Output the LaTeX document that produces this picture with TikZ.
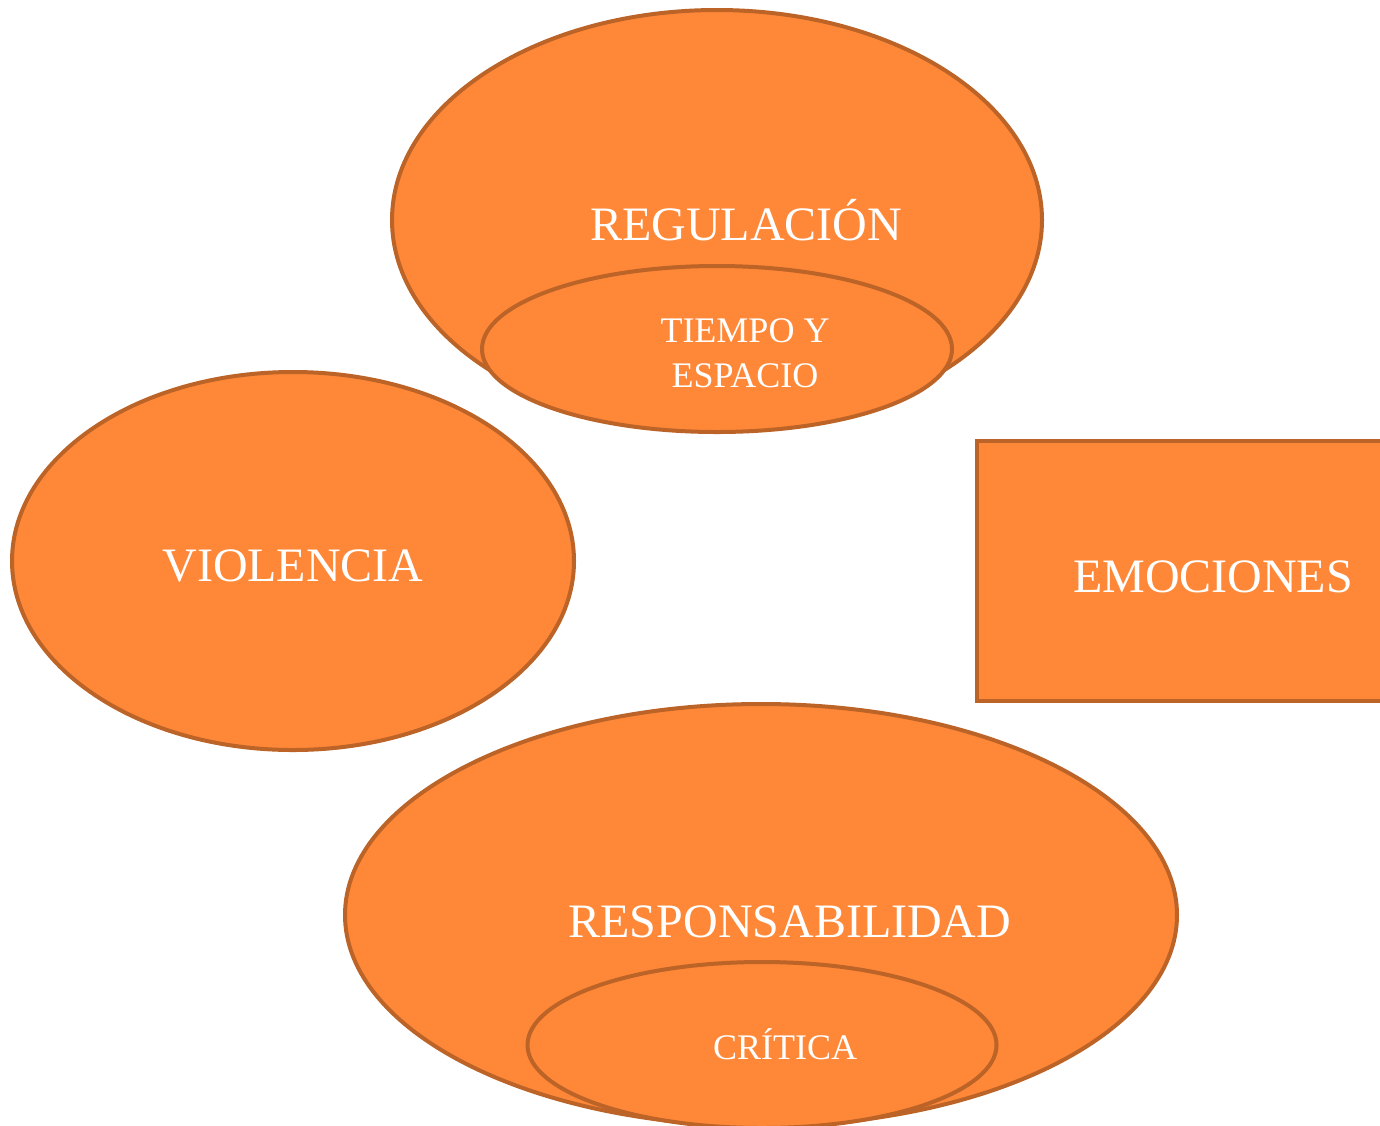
\documentclass[tikz,border=0pt]{standalone}
\usepackage{fontspec}
\setmainfont{Liberation Serif}
\usetikzlibrary{shapes.geometric}
\definecolor{fillor}{HTML}{FF8838}
\definecolor{lineor}{HTML}{BC6328}
\tikzset{
  blob/.style={ellipse, draw=lineor, fill=fillor, line width=4pt, inner sep=0pt},
  boxshape/.style={rectangle, draw=lineor, fill=fillor, line width=4pt, inner sep=0pt},
  bigtxt/.style={text=white, font=\fontsize{48}{52}\selectfont, anchor=base, inner sep=0pt},
  smalltxt/.style={text=white, font=\fontsize{36}{45}\selectfont, anchor=base, inner sep=0pt, align=center},
}
\begin{document}
\begin{tikzpicture}[x=1pt,y=-1pt]
\useasboundingbox (0,0) rectangle (1380,1125);
% Regulacion
\node[blob, minimum width=650pt, minimum height=420pt] (reg) at (717,220) {};
\node[blob, minimum width=470pt, minimum height=166pt] (tie) at (717,349) {};
\node[bigtxt] (regt) at (746,240) {REGULACIÓN};
\node[smalltxt] (tiet1) at (745,342) {TIEMPO Y};
\node[smalltxt] (tiet2) at (745,387) {ESPACIO};
% Violencia
\node[blob, minimum width=562pt, minimum height=378pt] (vio) at (293,561) {};
\node[bigtxt] (viot) at (293,581) {VIOLENCIA};
% Emociones
\node[boxshape, minimum width=420pt, minimum height=260pt] (emo) at (1187,571) {};
\node[bigtxt] (emot) at (1213,592) {EMOCIONES};
% Responsabilidad
\node[blob, minimum width=832pt, minimum height=422pt] (res) at (761,915) {};
\node[blob, minimum width=469pt, minimum height=166pt] (cri) at (762,1045) {};
\node[bigtxt] (rest) at (790,937) {RESPONSABILIDAD};
\node[smalltxt] (crit) at (785,1059) {CRÍTICA};
\end{tikzpicture}
\end{document}
